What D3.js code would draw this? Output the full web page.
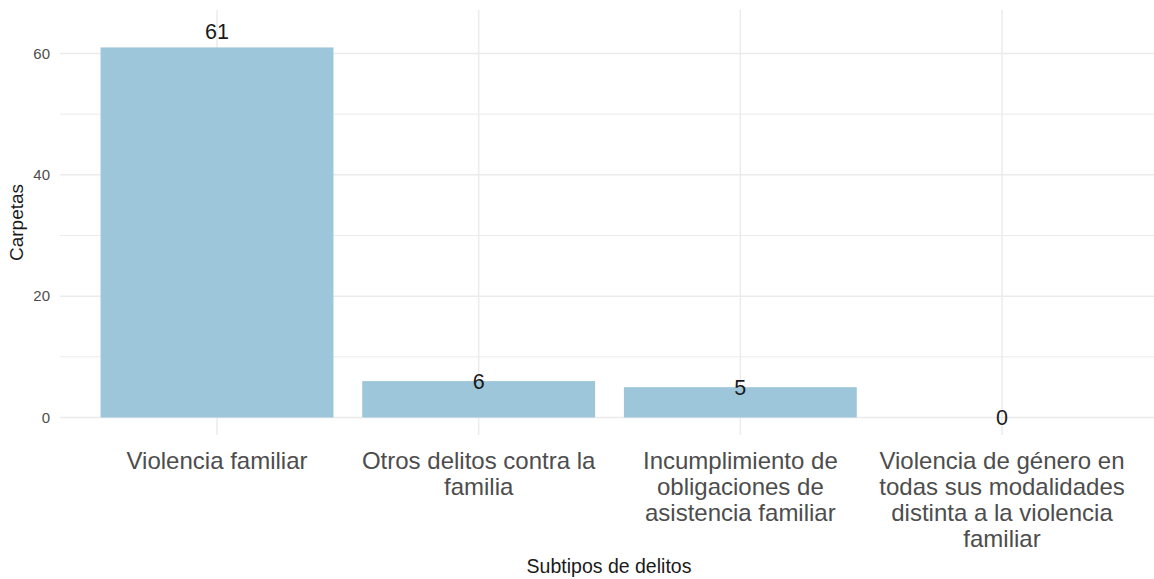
<!DOCTYPE html>
<html>
<head>
<meta charset="utf-8">
<script src="https://cdn.jsdelivr.net/npm/d3@7"></script>
<style>
  body { margin: 0; background: #fff; }
  text { font-family: "Liberation Sans", Arial, sans-serif; }
</style>
</head>
<body>
<div id="chart"></div>
<script>
// Data
const categories = [
    "Violencia familiar",
    "Otros delitos contra la familia",
    "Incumplimiento de obligaciones de asistencia familiar",
    "Violencia de género en todas sus modalidades distinta a la violencia familiar"
];
const labelLines = [
    ["Violencia familiar"],
    ["Otros delitos contra la", "familia"],
    ["Incumplimiento de", "obligaciones de", "asistencia familiar"],
    ["Violencia de género en", "todas sus modalidades", "distinta a la violencia", "familiar"]
];
const values = [61, 6, 5, 0];
const yTicks = [0, 20, 40, 60];
const yMinor = [10, 30, 50];

const width = 1154;
const height = 579;
const panel = { left: 60, right: 1159, top: 10, bottom: 435 };

const svg = d3.select("#chart")
    .append("svg")
    .attr("width", width)
    .attr("height", height);

// Scales
const x = d3.scaleBand()
    .domain(categories)
    .range([panel.left, panel.right])
    .paddingInner(0.11)
    .paddingOuter(0.155);

const y = d3.scaleLinear()
    .domain([0, 60])
    .range([417.5, 53.5]);

const gridColor = "#ebebeb";

// Grid lines
svg.append("g")
    .selectAll("line")
    .data(yMinor)
    .join("line")
    .attr("x1", panel.left)
    .attr("x2", width)
    .attr("y1", d => y(d))
    .attr("y2", d => y(d))
    .attr("stroke", gridColor)
    .attr("stroke-width", 1);

svg.append("g")
    .selectAll("line")
    .data(yTicks)
    .join("line")
    .attr("x1", panel.left)
    .attr("x2", width)
    .attr("y1", d => y(d))
    .attr("y2", d => y(d))
    .attr("stroke", gridColor)
    .attr("stroke-width", 1.5);

svg.append("g")
    .selectAll("line")
    .data(categories)
    .join("line")
    .attr("x1", d => x(d) + x.bandwidth() / 2)
    .attr("x2", d => x(d) + x.bandwidth() / 2)
    .attr("y1", panel.top)
    .attr("y2", panel.bottom)
    .attr("stroke", gridColor)
    .attr("stroke-width", 1.5);

// Bars
svg.append("g")
    .selectAll("rect")
    .data(values)
    .join("rect")
    .attr("x", (d, i) => x(categories[i]))
    .attr("y", d => y(d))
    .attr("width", x.bandwidth())
    .attr("height", d => y(0) - y(d))
    .attr("fill", "#9dc6da");

// Value labels (big value sits above its bar)
svg.append("g")
    .selectAll("text")
    .data(values)
    .join("text")
    .attr("x", (d, i) => x(categories[i]) + x.bandwidth() / 2)
    .attr("y", d => y(d > 10 ? d + 2.6 : d))
    .attr("dy", "0.36em")
    .attr("text-anchor", "middle")
    .attr("font-size", 21.5)
    .attr("fill", "#1a1a1a")
    .text(d => d);

// Y axis labels
const yAxis = svg.append("g")
    .attr("transform", `translate(${panel.left - 10},0)`)
    .call(d3.axisLeft(y).tickValues(yTicks).tickSize(0).tickPadding(0));
yAxis.select(".domain").remove();
yAxis.selectAll("text")
    .attr("font-size", 15)
    .attr("fill", "#4d4d4d");

// X axis labels
const xLabels = svg.append("g")
    .selectAll("text")
    .data(categories)
    .join("text")
    .attr("text-anchor", "middle")
    .attr("font-size", 24)
    .attr("fill", "#4d4d4d")
    .attr("transform", d => `translate(${x(d) + x.bandwidth() / 2},469)`);

xLabels.selectAll("tspan")
    .data((d, i) => labelLines[i])
    .join("tspan")
    .attr("x", 0)
    .attr("y", (d, i) => i * 26)
    .text(d => d);

// Axis titles
svg.append("text")
    .attr("x", (panel.left + width) / 2 + 2)
    .attr("y", 573)
    .attr("text-anchor", "middle")
    .attr("font-size", 19.5)
    .attr("fill", "#1a1a1a")
    .text("Subtipos de delitos");

svg.append("text")
    .attr("transform", `translate(23,${(panel.top + panel.bottom) / 2}) rotate(-90)`)
    .attr("text-anchor", "middle")
    .attr("font-size", 19)
    .attr("fill", "#1a1a1a")
    .text("Carpetas");
</script>
</body>
</html>
